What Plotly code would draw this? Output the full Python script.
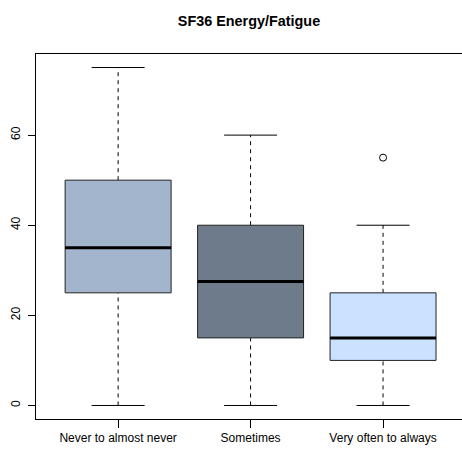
import plotly.graph_objects as go

# Summary statistics per response group
categories = ["Never to almost never", "Sometimes", "Very often to always"]
lower_whisker = [0, 0, 0]
q1 = [25, 15, 10]
median = [35, 27.5, 15]
q3 = [50, 40, 25]
upper_whisker = [75, 60, 40]
outliers = [[], [], [55]]
fill_colors = ["#A2B5CD", "#6E7B8B", "#CAE1FF"]
y_ticks = [0, 20, 40, 60]

BOX_HALF = 0.4
CAP_HALF = 0.2

fig = go.Figure()

for i, cat in enumerate(categories):
    x = i + 1
    # whiskers (dashed)
    for a, b in ((q3[i], upper_whisker[i]), (lower_whisker[i], q1[i])):
        fig.add_trace(go.Scatter(x=[x, x], y=[a, b], mode="lines",
                                 line=dict(color="black", width=1, dash="4px,4px"),
                                 hoverinfo="skip", showlegend=False))
    # whisker caps
    for v in (upper_whisker[i], lower_whisker[i]):
        fig.add_trace(go.Scatter(x=[x - CAP_HALF, x + CAP_HALF], y=[v, v], mode="lines",
                                 line=dict(color="black", width=1),
                                 hoverinfo="skip", showlegend=False))
    # box
    fig.add_trace(go.Scatter(
        x=[x - BOX_HALF, x + BOX_HALF, x + BOX_HALF, x - BOX_HALF, x - BOX_HALF],
        y=[q1[i], q1[i], q3[i], q3[i], q1[i]],
        mode="lines", fill="toself", fillcolor=fill_colors[i],
        line=dict(color="#222222", width=1), name=cat, showlegend=False))
    # median
    fig.add_trace(go.Scatter(x=[x - BOX_HALF, x + BOX_HALF], y=[median[i], median[i]],
                             mode="lines", line=dict(color="black", width=3),
                             hoverinfo="skip", showlegend=False))
    # outliers
    if outliers[i]:
        fig.add_trace(go.Scatter(x=[x] * len(outliers[i]), y=outliers[i], mode="markers",
                                 marker=dict(symbol="circle-open", size=7,
                                             color="black", line=dict(width=1)),
                                 showlegend=False))

font = "Liberation Sans, Arial, sans-serif"
fig.update_layout(
    width=462, height=457,
    margin=dict(l=36, r=0, t=54, b=38),
    paper_bgcolor="white", plot_bgcolor="white",
    font=dict(family=font, size=12, color="black"),
    title=dict(text="<b>SF36 Energy/Fatigue</b>", x=0.5, xref="paper",
               y=1 - 21 / 457, yanchor="middle",
               font=dict(family=font, size=14.4, color="black")),
    xaxis=dict(range=[0.38, 3.596], tickvals=[1, 2, 3], ticktext=categories,
               showline=True, linecolor="black", linewidth=1, mirror=True,
               ticks="outside", ticklen=8, tickcolor="black",
               showgrid=False, zeroline=False, fixedrange=True),
    yaxis=dict(range=[-3, 78], tickvals=y_ticks, tickangle=-90,
               showline=True, linecolor="black", linewidth=1, mirror=False,
               ticks="outside", ticklen=7, tickcolor="black", ticklabelstandoff=3,
               showgrid=False, zeroline=False, fixedrange=True),
)

fig.write_html("out.html")
